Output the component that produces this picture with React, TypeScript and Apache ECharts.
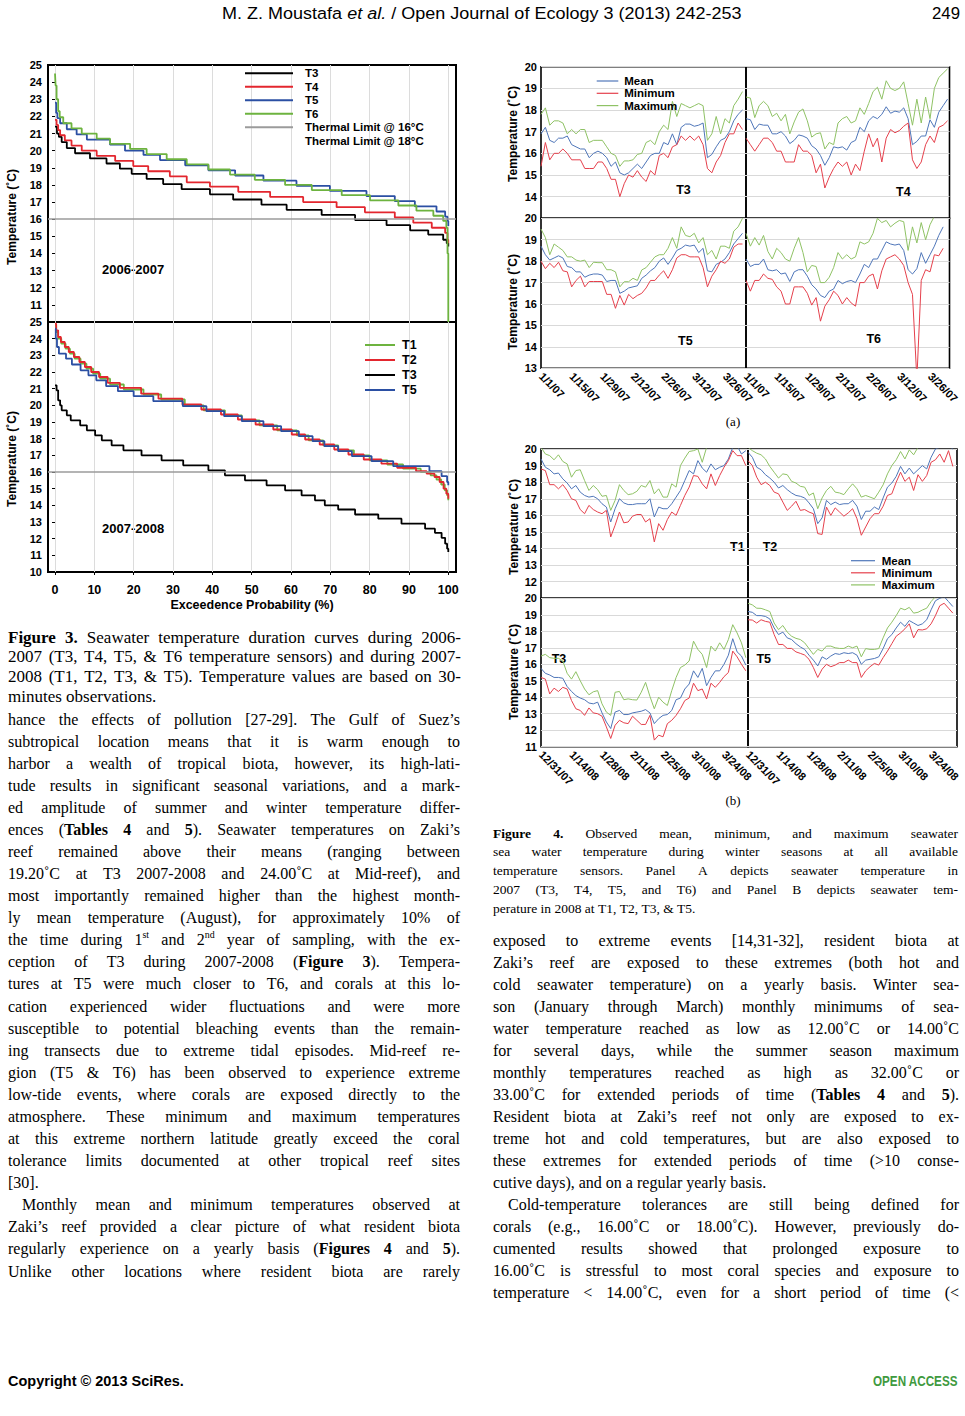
import React, { useEffect, useRef } from 'react';
import * as echarts from 'echarts';

const SANS = 'Liberation Sans';
const SERIF = 'Liberation Serif';

/* ---------------- Figure 3 : duration curves  [exceedence %, °C] ---------------- */
const f3XTicks = [0, 10, 20, 30, 40, 50, 60, 70, 80, 90, 100];
const f3ThermalLimit = 16;
const f3LegendTop = ['T3', 'T4', 'T5', 'T6', 'Thermal Limit @ 16°C', 'Thermal Limit @ 18°C'];
const f3LegendBottom = ['T1', 'T2', 'T3', 'T5'];
const f3PeriodLabels = ['2006-2007', '2007-2008'];

const dc0607_T3 = [[0,21.4],[0.5,21.0],[1,20.8],[1.7,20.5],[3.0,20.15],[5.1,19.85],[8.9,19.55],[13.1,19.25],[16.5,18.95],[19.5,18.65],[23.3,18.35],[27.5,18.05],[32.2,17.75],[39.4,17.45],[45.3,17.15],[52.5,16.85],[58.9,16.55],[67.8,16.25],[76.3,15.95],[84.3,15.65],[90.3,15.35],[94.9,15.1],[98.7,14.8],[99.6,14.6],[100,14.4]];
const dc0607_T4 = [[0,21.8],[0.4,21.5],[0.8,21.2],[1.3,20.9],[2.5,20.6],[4.2,20.3],[6.8,20.0],[10.6,19.7],[15.3,19.4],[19.9,19.1],[23.7,18.8],[29.2,18.5],[33.5,18.15],[39.4,17.9],[46.6,17.6],[54.7,17.3],[63.1,17.0],[71.6,16.7],[78.8,16.4],[86.4,16.1],[91.1,15.8],[95.8,15.5],[99.2,15.2],[99.8,14.8],[100,14.6]];
const dc0607_T5 = [[0,22.8],[0.3,22.2],[0.6,21.9],[1.3,21.6],[3.0,21.25],[5.5,20.95],[8.1,20.65],[14.0,20.35],[17.8,20.0],[22.5,19.75],[26.7,19.45],[33.1,19.15],[39.0,18.85],[45.8,18.55],[53.0,18.25],[61.4,17.95],[69.9,17.65],[79.2,17.35],[86.4,17.05],[91.5,16.75],[97.0,16.45],[99.2,16.15],[99.8,15.9],[100,15.6]];
const dc0607_T6 = [[0,24.5],[0.15,23.8],[0.4,23.0],[0.8,22.3],[1.2,21.95],[2.1,21.6],[4.2,21.3],[6.8,21.0],[10.6,20.7],[14.0,20.4],[19.1,20.1],[23.3,19.8],[28.4,19.5],[33.5,19.2],[39.0,18.9],[44.5,18.6],[50.8,18.3],[58.5,18.0],[65.3,17.7],[72.9,17.4],[80.1,17.1],[87.3,16.8],[91.9,16.5],[96.2,16.2],[98.7,15.9],[99.5,15.5],[99.8,14.0],[100,10.0]];

const dc0708_T1 = [[0,24.8],[0.3,24.4],[0.8,24.0],[1.6,23.7],[2.7,23.4],[3.8,23.1],[5.0,22.8],[6.5,22.5],[8.0,22.2],[9.7,21.9],[11.5,21.6],[14.0,21.25],[17.5,20.95],[22.5,20.65],[27.0,20.35],[33.0,20.0],[37.8,19.7],[43.2,19.4],[47.5,19.1],[52.0,18.8],[56.5,18.5],[61.5,18.2],[64.5,17.9],[68.2,17.6],[72.0,17.3],[76.0,17.0],[80.0,16.7],[84.5,16.45],[88.5,16.2],[93.0,16.0],[95.5,15.8],[97.0,15.55],[98.2,15.25],[99.1,14.9],[99.7,14.6],[100,14.3]];
const dc0708_T2 = [[0,24.9],[0.3,24.5],[0.8,24.1],[1.5,23.8],[2.5,23.5],[3.5,23.2],[4.8,22.9],[6.2,22.6],[7.6,22.3],[9.2,22.0],[11.2,21.7],[13.4,21.35],[16.5,21.05],[21.9,20.7],[26.3,20.4],[32.4,20.05],[37.2,19.75],[42.2,19.45],[46.5,19.15],[51.0,18.85],[55.5,18.55],[60.2,18.25],[63.6,17.95],[67.3,17.65],[71.0,17.35],[74.6,17.05],[78.5,16.75],[83.0,16.5],[87.0,16.25],[91.8,16.05],[94.5,15.9],[96.5,15.7],[97.8,15.4],[98.8,15.0],[99.5,14.7],[100,14.4]];
const dc0708_T3 = [[0,21.2],[0.4,20.9],[0.8,20.3],[1.3,20.0],[1.7,19.7],[3.0,19.4],[4.0,19.1],[6.4,18.8],[8.1,18.5],[10.2,18.2],[11.9,17.9],[14.4,17.6],[17.4,17.3],[22.0,17.0],[27.1,16.7],[32.6,16.4],[39.0,16.1],[43.2,15.8],[48.3,15.5],[53.8,15.2],[58.5,14.9],[62.7,14.6],[66.1,14.3],[68.6,14.0],[72.0,13.75],[76.3,13.45],[82.2,13.2],[88.1,12.9],[94.1,12.6],[96.6,12.35],[98.3,12.05],[99.2,11.7],[99.7,11.4],[100,11.2]];
const dc0708_T5 = [[0,24.6],[0.2,24.0],[0.5,23.5],[1.0,23.1],[2.8,22.8],[4.3,22.45],[6.5,22.1],[8.5,21.8],[10.5,21.5],[13.0,21.15],[16.0,20.85],[20.0,20.55],[25.0,20.25],[32.5,19.95],[38.5,19.65],[43.0,19.35],[47.5,19.05],[53.0,18.75],[57.5,18.45],[62.0,18.15],[65.5,17.85],[68.5,17.55],[72.0,17.25],[75.5,16.95],[80.5,16.65],[86.0,16.35],[95.2,16.05],[98.3,15.75],[99.7,15.4],[100,15.2]];

/* ---------------- Figure 4 : daily mean / min / max (°C) ---------------- */
const days07 = [0,2,4,6,8,10,12,14,16,18,20,22,24,26,28,30,32,34,36,38,40,42,44,46,48,50,52,54,56,58,60,62,64,66,68,70,72,74,76,78,80,82,84,86,88,90,92];
const days08 = [0,2,4,6,8,10,12,14,16,18,20,22,24,26,28,30,32,34,36,38,40,42,44,46,48,50,52,54,56,58,60,62,64,66,68,70,72,74,76,78,80,82,84,86,88,90,92,94];
const dateLabels07 = ['1/1/07', '1/15/07', '1/29/07', '2/12/07', '2/26/07', '3/12/07', '3/26/07'];
const dateLabels08 = ['12/31/07', '1/14/08', '1/28/08', '2/11/08', '2/25/08', '3/10/08', '3/24/08'];
const f4Legend = ['Mean', 'Minimum', 'Maximum'];

const a_T3_mean = [16.9,17.2,16.6,16.5,16.7,16.7,16.8,16.4,16.3,16.2,16.2,15.8,16.0,16.1,16.0,15.8,15.4,15.6,15.1,15.0,15.1,15.3,15.5,15.3,15.6,15.9,16.0,16.0,16.5,16.4,16.9,16.4,17.2,17.35,17.35,17.25,17.3,17.4,15.8,15.95,16.3,16.6,16.7,17.0,17.5,17.8,18.0];
const a_T3_min = [15.4,16.5,15.7,16.0,16.0,16.2,16.0,15.7,15.7,15.7,15.3,15.3,15.3,15.6,15.6,15.3,14.8,14.8,14.0,14.6,15.0,14.9,15.2,14.9,14.7,15.2,15.0,15.9,16.0,15.8,16.3,16.4,16.8,16.6,16.8,16.6,16.8,16.4,15.3,15.1,15.6,15.9,16.5,16.9,16.9,17.4,17.1];
const a_T3_max = [17.8,18.1,17.3,17.5,17.5,17.4,16.9,17.1,16.9,17.1,17.1,16.5,16.6,16.6,16.6,16.3,16.0,15.9,15.4,15.65,15.65,15.7,15.95,16.0,16.5,16.6,16.4,17.0,17.3,17.1,18.4,17.7,18.3,18.2,18.1,18.2,18.3,18.2,16.6,16.9,17.7,16.9,17.6,17.4,18.2,18.5,18.85];
const a_T4_mean = [17.6,17.55,17.1,17.35,17.3,17.3,16.9,16.9,17.0,16.8,16.45,16.6,16.85,16.8,16.7,16.35,16.2,15.9,15.45,15.8,16.3,16.25,16.3,16.15,16.5,16.6,17.2,17.0,17.5,17.7,17.6,17.8,18.15,17.85,17.95,17.9,18.1,17.6,16.4,16.55,16.8,16.8,17.55,17.2,17.9,18.2,18.5];
const a_T4_min = [16.7,16.4,16.1,16.4,16.7,16.7,16.5,16.1,16.1,15.6,15.6,15.6,16.4,16.1,16.1,15.9,15.1,15.5,14.4,14.9,15.3,15.6,15.4,15.6,15.0,15.5,15.2,16.1,16.9,16.3,16.7,15.6,16.7,17.1,16.95,17.05,17.25,17.4,15.7,15.3,15.6,16.4,16.8,16.5,17.2,17.3,17.5];
const a_T4_max = [18.6,18.55,17.65,18.2,18.4,18.2,17.7,17.85,17.5,17.8,16.9,17.45,17.9,18.05,17.5,16.75,16.9,16.95,16.2,16.5,16.4,17.4,17.6,17.7,17.4,17.5,18.1,17.8,18.3,18.85,19.05,18.5,19.35,19.0,18.9,19.0,19.3,18.3,17.3,18.5,17.4,18.6,17.6,19.0,19.5,19.7,19.9];
const a_T5_mean = [18.7,18.3,18.05,18.15,18.25,18.15,17.75,17.7,17.5,17.5,17.25,17.35,17.4,17.4,17.35,17.05,17.1,17.1,16.5,16.6,16.75,16.8,16.85,17.2,17.35,17.55,17.7,18.0,18.15,17.85,18.15,18.5,18.6,18.75,18.7,18.75,18.4,18.6,17.55,17.5,17.85,17.95,18.1,18.4,18.8,19.05,19.3];
const a_T5_min = [18.0,17.65,17.9,17.7,17.95,17.55,17.5,16.8,17.1,17.3,16.8,17.05,17.05,17.05,17.05,16.45,16.45,15.8,16.4,15.95,16.45,16.25,16.4,16.5,16.75,17.1,17.1,17.35,17.55,17.2,17.6,18.15,18.3,18.3,18.2,18.2,18.2,17.7,16.8,17.3,17.6,18.0,17.9,18.1,18.65,18.8,18.8];
const a_T5_max = [19.5,19.1,18.3,18.8,18.65,18.5,18.2,18.2,18.05,18.0,18.05,17.7,17.95,17.93,17.93,17.6,17.6,17.5,16.8,17.04,17.04,17.2,17.1,17.59,17.7,17.95,18.2,18.3,18.3,18.6,19.1,18.6,19.6,19.2,19.14,19.3,18.85,19.1,18.3,18.5,18.1,18.7,18.7,18.6,19.4,19.6,20.0];
const a_T6_mean = [18.1,17.75,17.85,17.85,18.1,17.6,17.55,17.6,17.4,17.45,17.05,17.5,17.6,17.6,17.3,16.9,16.7,16.4,16.3,16.6,16.7,17.1,16.95,17.05,17.1,17.0,17.4,17.85,17.7,18.1,18.1,18.5,18.9,18.8,18.75,18.8,18.5,17.6,17.4,17.65,18.4,17.9,18.3,18.7,19.2,19.6];
const a_T6_min = [17.1,16.6,17.1,17.1,17.4,17.2,17.15,16.8,16.6,16.0,16.0,16.8,16.8,16.8,16.5,15.95,16.3,15.2,15.9,16.2,16.6,16.4,16.0,16.3,16.05,15.9,17.0,17.0,17.3,17.4,16.7,17.55,18.1,18.2,18.3,18.1,17.8,17.0,16.45,12.5,17.1,17.6,17.5,18.3,18.25,18.6];
const a_T6_max = [19.3,18.7,19.1,18.75,19.2,18.45,18.1,18.6,18.4,18.1,18.0,18.6,19.1,18.4,17.5,17.8,17.75,17.0,17.0,17.25,17.7,18.4,18.1,18.3,18.1,18.2,18.9,18.8,18.9,19.3,20.0,19.8,19.9,19.6,19.77,19.9,19.84,18.5,19.6,18.85,19.8,19.0,19.7,20.1,20.4,20.5];

const b_T1_mean = [19.4,18.9,18.75,18.5,18.55,18.2,17.95,17.6,17.8,17.4,17.2,17.1,17.15,17.0,16.7,16.5,15.6,16.4,17.0,16.75,16.65,16.65,16.7,16.7,16.7,17.0,15.9,16.5,16.4,16.4,16.7,17.1,17.5,18.1,18.7,18.5,19.3,18.85,18.6,19.1,18.75,18.9,19.0,19.4,20.1,20.2,19.7,19.9];
const b_T1_min = [18.8,18.7,17.85,17.85,17.6,17.85,17.5,17.0,16.9,16.35,16.1,16.6,16.35,16.2,16.1,16.3,14.7,15.4,16.2,15.55,15.6,15.95,16.05,16.05,15.6,15.8,14.4,15.5,15.1,15.75,16.2,16.0,16.6,17.2,17.7,18.4,18.35,17.9,17.6,18.5,17.8,18.4,18.9,19.3,19.9,19.6,19.6,19.0];
const b_T1_max = [20.1,19.7,19.6,19.35,19.65,19.25,19.1,18.3,18.7,18.75,18.1,17.5,17.8,17.55,17.15,17.2,16.3,16.9,17.85,17.5,17.25,17.3,17.45,17.8,17.7,18.1,17.3,17.6,17.1,17.1,17.9,17.7,19.0,19.45,19.85,19.9,20.0,19.2,20.1,20.3,20.4,20.5,20.6,20.6,20.8,20.8,20.6,20.5];
const b_T2_mean = [19.8,19.5,18.9,18.75,18.45,18.25,18.0,17.65,17.8,17.55,17.35,17.2,17.15,17.05,16.75,16.4,15.5,15.85,16.9,16.65,16.8,16.65,16.7,16.7,16.9,16.55,15.75,16.25,16.25,16.5,16.35,17.05,17.7,17.95,18.35,18.95,18.5,18.85,18.5,18.75,19.0,18.8,19.5,20.0,20.1,20.3,20.2,20.0];
const b_T2_min = [19.3,19.0,18.3,17.85,18.0,17.8,17.4,17.3,16.8,16.3,16.55,16.85,16.3,16.35,16.2,16.1,14.9,14.85,16.5,16.0,16.45,16.2,15.95,16.15,16.4,15.8,14.8,15.3,15.8,16.1,16.1,16.55,17.2,17.3,18.0,18.6,18.05,18.3,17.5,18.45,18.05,18.4,19.2,19.35,19.7,19.2,19.9,18.95];
const b_T2_max = [20.1,19.9,19.75,19.65,19.4,18.95,18.6,18.25,18.5,18.45,18.05,17.95,17.75,17.7,17.2,17.35,16.4,17.05,17.5,17.75,17.4,17.35,17.25,17.6,17.9,17.6,17.1,17.2,17.1,17.0,17.4,17.84,18.5,19.0,19.35,19.85,19.4,19.95,19.65,20.1,20.3,20.4,20.5,20.5,20.6,20.6,20.6,20.5];
const b_T3_mean = [15.75,15.45,15.35,15.2,15.2,15.15,14.65,14.35,14.1,13.95,13.85,13.65,13.6,13.7,13.05,12.5,12.1,13.1,13.2,12.95,12.95,13.05,13.1,13.15,13.25,13.05,12.4,12.7,12.9,12.95,13.2,13.85,13.95,14.5,14.8,15.6,15.2,15.75,14.7,15.2,15.6,15.6,16.0,16.55,17.55,16.75,16.5,15.95];
const b_T3_min = [15.2,15.1,14.2,14.55,14.35,14.6,14.5,13.8,13.3,13.2,12.9,13.35,13.05,13.0,12.85,12.2,11.5,12.3,12.6,12.45,12.4,12.85,12.6,12.35,12.35,12.9,11.4,11.7,11.6,12.4,12.6,12.9,13.3,13.8,13.95,14.85,14.4,14.5,13.9,14.85,14.6,14.9,15.25,15.5,16.8,16.45,16.0,15.6];
const b_T3_max = [16.5,16.6,16.4,16.36,16.36,16.2,15.45,15.1,15.55,15.0,14.5,14.15,14.33,14.4,13.6,13.1,12.9,14.3,14.35,13.85,13.9,13.85,13.83,14.3,14.9,14.05,13.3,14.0,13.7,13.5,14.4,15.2,15.8,15.95,16.2,17.4,16.9,16.6,15.8,17.1,16.8,17.3,16.9,17.5,18.4,17.9,17.3,16.4];
const b_T5_mean = [19.2,19.15,18.95,18.95,18.9,18.75,18.2,17.8,17.95,17.6,17.5,17.25,17.05,16.9,16.55,16.25,15.9,16.45,16.3,16.5,16.65,16.6,16.7,16.65,16.7,16.55,16.0,16.25,16.3,16.35,16.45,16.95,17.55,17.8,18.2,18.55,18.3,18.65,18.5,18.35,18.45,18.7,19.3,19.85,20.0,20.1,19.8,19.5];
const b_T5_min = [18.7,18.68,18.5,18.7,18.6,18.55,17.8,17.2,17.2,16.96,16.96,16.75,16.66,16.56,16.3,15.8,15.2,15.7,16.0,15.85,15.95,16.1,16.1,16.25,16.1,16.1,15.2,15.6,15.85,16.05,15.95,16.4,16.8,17.25,17.7,17.9,18.15,18.45,17.6,18.1,18.08,18.15,18.45,18.95,19.55,19.7,19.4,19.1];
const b_T5_max = [19.7,19.6,19.4,19.39,19.3,19.2,18.5,18.1,18.35,17.95,17.7,17.57,17.5,17.3,16.95,16.6,16.9,16.8,17.1,17.1,17.0,16.96,16.96,17.1,17.0,17.1,16.45,16.95,16.9,16.9,16.95,17.6,18.2,18.55,18.95,19.4,19.3,19.45,19.1,19.15,19.29,19.4,19.8,20.1,20.3,20.4,20.3,20.2];

/* ---------------- Page text ---------------- */
const headerSegs = [
  { t: 'M. Z. Moustafa ', i: false, b: false },
  { t: 'et al.', i: true, b: false },
  { t: ' / Open Journal of Ecology 3 (2013) 242-253', i: false, b: false },
];
const pageNumber = '249';
const footerLeft = 'Copyright © 2013 SciRes.';
const footerRight = 'OPEN ACCESS';

const caption3 = [
  '**Figure 3.** Seawater temperature duration curves during 2006-',
  '2007 (T3, T4, T5, & T6 temperature sensors) and during 2007-',
  '2008 (T1, T2, T3, & T5). Temperature values are based on 30-',
  'minutes observations.',
];
const caption4 = [
  '**Figure 4.** Observed mean, minimum, and maximum seawater',
  'sea water temperature during winter seasons at all available',
  'temperature sensors. Panel A depicts seawater temperature in',
  '2007 (T3, T4, T5, and T6) and Panel B depicts seawater tem-',
  'perature in 2008 at T1, T2, T3, & T5.',
];
const leftBody = [
  'hance the effects of pollution [27-29]. The Gulf of Suez’s',
  'subtropical location means that it is warm enough to',
  'harbor a wealth of tropical biota, however, its high-lati-',
  'tude results in significant seasonal variations, and a mark-',
  'ed amplitude of summer and winter temperature differ-',
  'ences (**Tables 4** and **5**). Seawater temperatures on Zaki’s',
  'reef remained above their means (ranging between',
  '19.20˚C at T3 2007-2008 and 24.00˚C at Mid-reef), and',
  'most importantly remained higher than the highest month-',
  'ly mean temperature (August), for approximately 10% of',
  'the time during 1^{st} and 2^{nd} year of sampling, with the ex-',
  'ception of T3 during 2007-2008 (**Figure 3**). Tempera-',
  'tures at T5 were much closer to T6, and corals at this lo-',
  'cation experienced wider fluctuations and were more',
  'susceptible to potential bleaching events than the remain-',
  'ing transects due to extreme tidal episodes. Mid-reef re-',
  'gion (T5 & T6) has been observed to experience extreme',
  'low-tide events, where corals are exposed directly to the',
  'atmosphere. These minimum and maximum temperatures',
  'at this extreme northern latitude greatly exceed the coral',
  'tolerance limits documented at other tropical reef sites',
  '[30].',
  'Monthly mean and minimum temperatures observed at',
  'Zaki’s reef provided a clear picture of what resident biota',
  'regularly experience on a yearly basis (**Figures 4** and **5**).',
  'Unlike other locations where resident biota are rarely',
];
const rightBody = [
  'exposed to extreme events [14,31-32], resident biota at',
  'Zaki’s reef are exposed to these extremes (both hot and',
  'cold seawater temperature) on a yearly basis. Winter sea-',
  'son (January through March) monthly minimums of sea-',
  'water temperature reached as low as 12.00˚C or 14.00˚C',
  'for several days, while the summer season maximum',
  'monthly temperatures reached as high as 32.00˚C or',
  '33.00˚C for extended periods of time (**Tables 4** and **5**).',
  'Resident biota at Zaki’s reef not only are exposed to ex-',
  'treme hot and cold temperatures, but are also exposed to',
  'these extremes for extended periods of time (>10 conse-',
  'cutive days), and on a regular yearly basis.',
  'Cold-temperature tolerances are still being defined for',
  'corals (e.g., 16.00˚C or 18.00˚C). However, previously do-',
  'cumented results showed that prolonged exposure to',
  '16.00˚C is stressful to most coral species and exposure to',
  'temperature < 14.00˚C, even for a short period of time (<',
];

/* ---------------- helpers ---------------- */
let mctx: any = null;
function cssFamily(f: string) {
  return f.split(',').map((s) => '"' + s.trim() + '"').join(', ');
}
function measure(t: string, size: number, bold: boolean, italic: boolean, family: string) {
  if (!mctx) mctx = document.createElement('canvas').getContext('2d');
  mctx.font = (italic ? 'italic ' : '') + (bold ? 'bold ' : '') + size + 'px ' + cssFamily(family);
  return mctx.measureText(t).width;
}
function txt(text: string, x: number, y: number, o: any = {}) {
  return {
    type: 'text', x, y, silent: true, rotation: o.rotation || 0, scaleX: o.scaleX || 1,
    style: {
      text, fill: o.fill || '#000', fontSize: o.size || 12, fontFamily: o.family || SANS,
      fontWeight: o.bold ? 'bold' : 'normal', fontStyle: o.italic ? 'italic' : 'normal',
      align: o.align || 'left', verticalAlign: 'middle',
      textAlign: o.align || 'left', textVerticalAlign: 'middle',
    },
  };
}
function fitRun(segs: any[], x: number, y: number, target: number, size: number, family: string, fill = '#000') {
  const ws = segs.map((s) => measure(s.t, size, s.b, s.i, family));
  const total = ws.reduce((a, b) => a + b, 0);
  const sc = target / total;
  let cx = x;
  return segs.map((s, k) => {
    const el = txt(s.t, cx, y, { size, family, bold: s.b, italic: s.i, fill, scaleX: sc });
    cx += ws[k] * sc;
    return el;
  });
}
function parseWords(line: string, st: { b: boolean }) {
  return line.split(' ').map((w) => {
    const segs: any[] = [];
    let cur = '';
    let sup = false;
    let i = 0;
    while (i < w.length) {
      if (w.startsWith('**', i)) {
        if (cur) segs.push({ t: cur, b: st.b, sup });
        cur = ''; st.b = !st.b; i += 2; continue;
      }
      if (w.startsWith('^{', i)) {
        if (cur) segs.push({ t: cur, b: st.b, sup: false });
        cur = ''; sup = true; i += 2; continue;
      }
      if (sup && w[i] === '}') {
        if (cur) segs.push({ t: cur, b: st.b, sup: true });
        cur = ''; sup = false; i += 1; continue;
      }
      cur += w[i]; i += 1;
    }
    if (cur) segs.push({ t: cur, b: st.b, sup });
    return segs;
  });
}
function textBlock(lines: string[], x0: number, width: number, y0: number, dy: number, size: number, family: string, lastLines: number[], indentLines: number[], indent: number) {
  const els: any[] = [];
  const st = { b: false };
  const space = measure(' ', size, false, false, family);
  lines.forEach((line, li) => {
    const words = parseWords(line, st);
    const ind = indentLines.indexOf(li) >= 0 ? indent : 0;
    const segW = (s: any) => measure(s.t, s.sup ? size * 0.62 : size, s.b, false, family);
    const wW = words.map((ws) => ws.reduce((a: number, s: any) => a + segW(s), 0));
    const total = wW.reduce((a, b) => a + b, 0);
    let gap = space;
    let sc = 1;
    if (lastLines.indexOf(li) < 0 && words.length > 1) {
      gap = (width - ind - total) / (words.length - 1);
      if (gap < space * 0.6) {
        gap = space * 0.6;
        sc = (width - ind - gap * (words.length - 1)) / total;
      }
    }
    let x = x0 + ind;
    const y = y0 + li * dy;
    words.forEach((ws, wi) => {
      let sx = x;
      ws.forEach((s: any) => {
        els.push(txt(s.t, sx, s.sup ? y - size * 0.33 : y, { size: s.sup ? size * 0.62 : size, family, bold: s.b, scaleX: sc }));
        sx += segW(s) * sc;
      });
      x += wW[wi] * sc + gap;
    });
  });
  return els;
}

/* ---------------- option ---------------- */
function buildOption() {
  const grid: any[] = [];
  const xAxis: any[] = [];
  const yAxis: any[] = [];
  const series: any[] = [];
  const axisFont = { fontFamily: SANS, fontWeight: 'bold', color: '#000' };

  const C3 = { black: '#000000', red: '#e3262e', blue: '#2b4fa3', green: '#6db33f', gray: '#9b9b9b' };
  const C4 = { mean: '#4f76b9', min: '#e5404c', max: '#8fc265' };

  // ---- Figure 3 ----
  const X3MIN = -1.78;
  const X3MAX = 101.96;
  const f3Boxes = [[65, 257], [322, 250]];
  f3Boxes.forEach(([top, h], k) => {
    grid.push({ left: 48, top, width: 408, height: h, show: true, borderColor: '#000', borderWidth: 2, backgroundColor: 'rgba(0,0,0,0)', containLabel: false, outerBoundsMode: 'none' });
    xAxis.push({
      gridIndex: k, type: 'value', min: X3MIN, max: X3MAX,
      axisLine: { show: false },
      axisTick: { show: k === 1, customValues: f3XTicks, length: 3, lineStyle: { color: '#000', width: 1 } },
      axisLabel: { show: k === 1, customValues: f3XTicks, margin: 11, fontSize: 12.5, ...axisFont },
      splitLine: { show: true, lineStyle: { color: '#dcdcdc', width: 1 } },
      name: k === 1 ? 'Exceedence Probability (%)' : '', nameLocation: 'middle', nameGap: 26,
      nameTextStyle: { fontSize: 12.5, ...axisFont },
    });
    yAxis.push({
      gridIndex: k, type: 'value', min: 10, max: 25, interval: 1,
      axisLine: { show: false },
      axisTick: { show: true, length: 3, lineStyle: { color: '#000', width: 1 } },
      axisLabel: { margin: 6, fontSize: 11, showMinLabel: k === 1, showMaxLabel: true, ...axisFont },
      splitLine: { show: false },
    });
  });
  const stepLine = (name: string, data: any, color: string, gi: number, extra: any = {}) => ({
    type: 'line', name, xAxisIndex: gi, yAxisIndex: gi, data, step: 'end', symbol: 'none', showSymbol: false,
    lineStyle: { color, width: 1.8 }, itemStyle: { color }, silent: true, ...extra,
  });
  const limitMark = {
    markLine: {
      silent: true, symbol: 'none', label: { show: false },
      lineStyle: { color: C3.gray, width: 1.5, type: 'solid' },
      data: [{ yAxis: f3ThermalLimit }],
    },
  };
  series.push(
    stepLine('T3', dc0607_T3, C3.black, 0, limitMark),
    stepLine('T4', dc0607_T4, C3.red, 0),
    stepLine('T5', dc0607_T5, C3.blue, 0),
    stepLine('T6', dc0607_T6, C3.green, 0),
    stepLine('T1', dc0708_T1, C3.green, 1),
    stepLine('T2', dc0708_T2, C3.red, 1),
    stepLine('T3', dc0708_T3, C3.black, 1, limitMark),
    stepLine('T5', dc0708_T5, C3.blue, 1),
    stepLine('Thermal Limit @ 16°C', [], C3.gray, 0),
    stepLine('Thermal Limit @ 18°C', [], 'rgba(0,0,0,0)', 0),
  );

  // ---- Figure 4 ----
  const panels = [
    { left: 541, top: 66.7, width: 205, height: 151.6, xmax: 93.6, ymin: 13, ymax: 20, lc: true, br: false, labels: dateLabels07, days: days07, d: [a_T3_mean, a_T3_min, a_T3_max] },
    { left: 746, top: 66.7, width: 203.5, height: 151.6, xmax: 92.9, ymin: 13, ymax: 20, lc: false, br: false, labels: dateLabels07, days: days07, d: [a_T4_mean, a_T4_min, a_T4_max] },
    { left: 541, top: 218.3, width: 205, height: 150, xmax: 93.6, ymin: 13, ymax: 20, lc: true, br: true, labels: dateLabels07, days: days07, d: [a_T5_mean, a_T5_min, a_T5_max] },
    { left: 746, top: 218.3, width: 203.5, height: 150, xmax: 92.9, ymin: 13, ymax: 20, lc: false, br: true, labels: dateLabels07, days: days07, d: [a_T6_mean, a_T6_min, a_T6_max] },
    { left: 541, top: 449, width: 207, height: 149.3, xmax: 95, ymin: 11, ymax: 20, lc: true, br: false, labels: dateLabels08, days: days08, d: [b_T1_mean, b_T1_min, b_T1_max] },
    { left: 748, top: 449, width: 209, height: 149.3, xmax: 95.9, ymin: 11, ymax: 20, lc: false, br: false, labels: dateLabels08, days: days08, d: [b_T2_mean, b_T2_min, b_T2_max] },
    { left: 541, top: 598.3, width: 207, height: 148.4, xmax: 95, ymin: 11, ymax: 20, lc: true, br: true, labels: dateLabels08, days: days08, d: [b_T3_mean, b_T3_min, b_T3_max] },
    { left: 748, top: 598.3, width: 209, height: 148.4, xmax: 95.9, ymin: 11, ymax: 20, lc: false, br: true, labels: dateLabels08, days: days08, d: [b_T5_mean, b_T5_min, b_T5_max] },
  ];
  panels.forEach((p, k) => {
    const gi = k + 2;
    grid.push({ left: p.left, top: p.top, width: p.width, height: p.height, show: true, borderColor: '#000', borderWidth: 1.6, backgroundColor: 'rgba(0,0,0,0)', containLabel: false, outerBoundsMode: 'none' });
    const labels = p.labels;
    xAxis.push({
      gridIndex: gi, type: 'value', min: 0, max: p.xmax, interval: 14,
      axisLine: { show: false }, axisTick: { show: false }, splitLine: { show: false },
      axisLabel: {
        show: p.br, rotate: -45, margin: 6, fontSize: 11, showMinLabel: true, showMaxLabel: true, ...axisFont,
        formatter: (v: number) => {
          const n = Math.round(v / 14);
          return Math.abs(v - n * 14) < 1e-6 && labels[n] ? labels[n] : '';
        },
      },
    });
    yAxis.push({
      gridIndex: gi, type: 'value', min: p.ymin, max: p.ymax, interval: 1,
      axisLine: { show: false }, axisTick: { show: false },
      axisLabel: { show: p.lc, margin: 4, fontSize: 11, showMinLabel: p.br, showMaxLabel: true, ...axisFont },
      splitLine: { show: true, lineStyle: { color: '#d9d9d9', width: 1 } },
    });
    const names = f4Legend;
    const cols = [C4.mean, C4.min, C4.max];
    p.d.forEach((vals: number[], j: number) => {
      series.push({
        type: 'line', name: names[j], xAxisIndex: gi, yAxisIndex: gi,
        data: vals.map((v, i) => [p.days[i], v]),
        symbol: 'none', showSymbol: false, silent: true,
        lineStyle: { color: cols[j], width: 1 }, itemStyle: { color: cols[j] },
      });
    });
  });

  // ---- legends ----
  const legendBase = { orient: 'vertical', icon: 'rect', selectedMode: false, padding: 0 };
  const legend = [
    { ...legendBase, left: 245, top: 67.3, itemWidth: 48, itemHeight: 2, itemGap: 1.5, data: f3LegendTop,
      textStyle: { ...axisFont, fontSize: 11.5, lineHeight: 12, padding: [0, 0, 0, 7] } },
    { ...legendBase, left: 365, top: 338.5, itemWidth: 30, itemHeight: 2, itemGap: 2, data: f3LegendBottom,
      textStyle: { ...axisFont, fontSize: 12.5, lineHeight: 13, padding: [0, 0, 0, 2] } },
    { ...legendBase, left: 596.7, top: 75, itemWidth: 21.6, itemHeight: 1.2, itemGap: 0.3, data: f4Legend,
      textStyle: { ...axisFont, fontSize: 11.5, lineHeight: 12, padding: [0, 0, 0, 1] } },
    { ...legendBase, left: 851, top: 554.7, itemWidth: 24, itemHeight: 1.2, itemGap: 0.1, data: f4Legend,
      textStyle: { ...axisFont, fontSize: 11.5, lineHeight: 12, padding: [0, 0, 0, 1.7] } },
  ];

  // ---- graphic texts ----
  const g: any[] = [];
  const yTitle = 'Temperature (˚C)';
  g.push(txt(yTitle, 12, 217, { size: 12, bold: true, align: 'center', rotation: Math.PI / 2 }));
  g.push(txt(yTitle, 12, 459, { size: 12, bold: true, align: 'center', rotation: Math.PI / 2 }));
  g.push(txt(f3PeriodLabels[0], 102, 269, { size: 13, bold: true }));
  g.push(txt(f3PeriodLabels[1], 102, 528, { size: 13, bold: true }));
  [[512.7, 134], [512.7, 302], [514, 527], [514, 672]].forEach(([x, y]) =>
    g.push(txt(yTitle, x, y, { size: 12, bold: true, align: 'center', rotation: Math.PI / 2 })));
  const panelTags: any[] = [['T3', 683.5, 190], ['T4', 903.3, 192], ['T5', 685.3, 341], ['T6', 873.7, 338.7],
    ['T1', 737.3, 547], ['T2', 770, 547], ['T3', 559, 658.8], ['T5', 763.7, 658.7]];
  panelTags.forEach(([t, x, y]) => g.push(txt(t, x, y, { size: 12.5, bold: true, align: 'center' })));
  g.push(txt('(a)', 733, 421, { size: 13, family: SERIF, align: 'center' }));
  g.push(txt('(b)', 733, 800, { size: 13, family: SERIF, align: 'center' }));

  const NARROW = 'Liberation Sans Narrow, Liberation Sans';
  g.push(...fitRun(headerSegs, 222, 13, 520, 17, NARROW));
  g.push(...fitRun([{ t: pageNumber, b: false, i: false }], 932, 13, 28, 17, NARROW));
  g.push(...fitRun([{ t: footerLeft, b: true, i: false }], 8, 1381, 176, 14, SANS));
  g.push(...fitRun([{ t: footerRight, b: true, i: false }], 873, 1381, 85, 14, SANS, '#3f9a3f'));

  g.push(...textBlock(caption3, 8, 453, 637, 19.7, 17, SERIF, [3], [], 0));
  g.push(...textBlock(caption4, 493, 465, 833, 18.75, 13.5, SERIF, [4], [], 0));
  g.push(...textBlock(leftBody, 8, 452, 719, 22.08, 16, SERIF, [21], [22], 14));
  g.push(...textBlock(rightBody, 493, 466, 940, 22.06, 16, SERIF, [11], [12], 15));

  return {
    animation: false,
    backgroundColor: '#ffffff',
    textStyle: { fontFamily: SANS },
    grid, xAxis, yAxis, series, legend,
    graphic: { elements: g },
  };
}

export default function App() {
  const ref = useRef<HTMLDivElement>(null);
  useEffect(() => {
    const chart = echarts.init(ref.current as HTMLDivElement, null, { renderer: 'svg' });
    chart.setOption(buildOption() as any);
    return () => chart.dispose();
  }, []);
  return (
    <div
      ref={ref}
      style={{ position: 'absolute', left: 0, top: 0, width: 965, height: 1416, background: '#fff' }}
    />
  );
}
